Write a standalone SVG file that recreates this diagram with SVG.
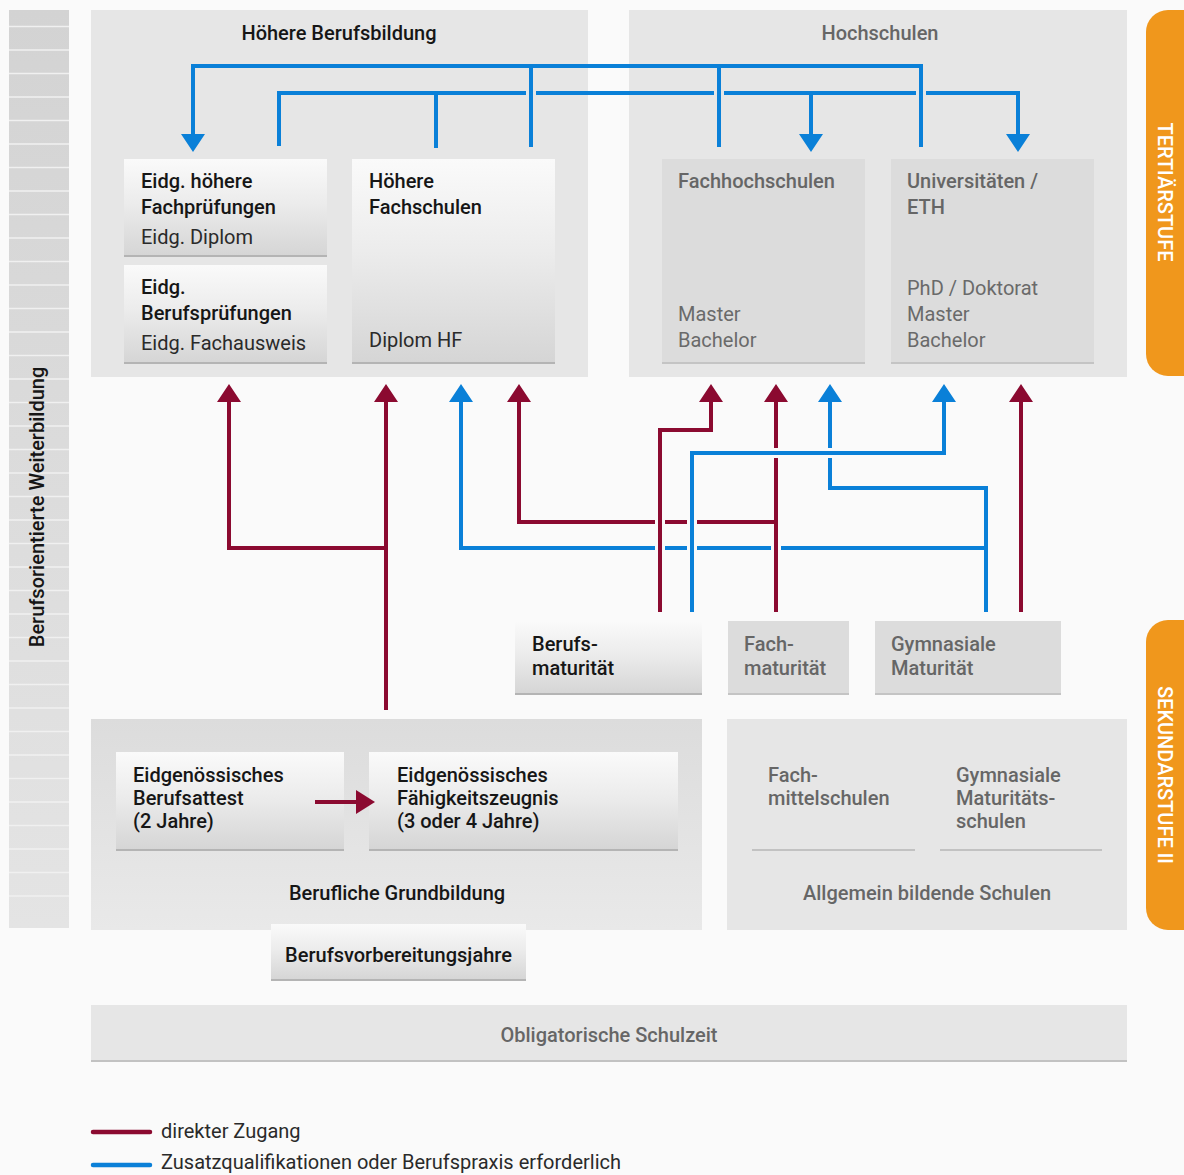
<svg xmlns="http://www.w3.org/2000/svg" width="1184" height="1175" viewBox="0 0 1184 1175">
<defs>
<linearGradient id="gWhite" x1="0" y1="0" x2="0" y2="1">
<stop offset="0" stop-color="#fafafa"/><stop offset="0.45" stop-color="#ececec"/><stop offset="1" stop-color="#d5d5d5"/>
</linearGradient>
<linearGradient id="gStrip" x1="0" y1="0" x2="0" y2="1">
<stop offset="0" stop-color="#d3d3d3"/><stop offset="1" stop-color="#e4e4e4"/>
</linearGradient>
<linearGradient id="gPanel" x1="0" y1="0" x2="0" y2="1">
<stop offset="0" stop-color="#dcdcdc"/><stop offset="1" stop-color="#e9e9e9"/>
</linearGradient>
<style>
text{font-family:Roboto,"Liberation Sans",sans-serif;font-size:20px}
.dk{fill:#161616;font-weight:500}
.dn{fill:#2a2a2a}
.gr{fill:#666666;font-weight:500}
.gn{fill:#6a6a6a}
.wh{fill:#ffffff;font-weight:500}
.panel{fill:#e6e6e6}
.wbox{fill:url(#gWhite)}
.gbox{fill:#dcdcdc}
.sh{stroke:#b4b4b4;stroke-width:2}
.red{stroke:#8b0a30;stroke-width:4;fill:none}
.blue{stroke:#0a80d8;stroke-width:4;fill:none}
.rh{fill:#8b0a30}
.bh{fill:#0a80d8}
.sep{stroke:#f0f0f0;stroke-width:1.5}
</style>
</defs>
<rect width="1184" height="1175" fill="#fafafa"/>

<g id="strip">
<rect x="9" y="10" width="60" height="918" fill="url(#gStrip)"/>
<g class="sep">
<line x1="9" y1="26.5" x2="69" y2="26.5"/><line x1="9" y1="50" x2="69" y2="50"/><line x1="9" y1="73.5" x2="69" y2="73.5"/><line x1="9" y1="97" x2="69" y2="97"/><line x1="9" y1="120.5" x2="69" y2="120.5"/><line x1="9" y1="144" x2="69" y2="144"/><line x1="9" y1="167.5" x2="69" y2="167.5"/><line x1="9" y1="191" x2="69" y2="191"/><line x1="9" y1="214.5" x2="69" y2="214.5"/><line x1="9" y1="238" x2="69" y2="238"/><line x1="9" y1="261.5" x2="69" y2="261.5"/><line x1="9" y1="285" x2="69" y2="285"/><line x1="9" y1="308.5" x2="69" y2="308.5"/><line x1="9" y1="332" x2="69" y2="332"/><line x1="9" y1="355.5" x2="69" y2="355.5"/><line x1="9" y1="379" x2="69" y2="379"/><line x1="9" y1="402.5" x2="69" y2="402.5"/><line x1="9" y1="426" x2="69" y2="426"/><line x1="9" y1="449.5" x2="69" y2="449.5"/><line x1="9" y1="473" x2="69" y2="473"/><line x1="9" y1="496.5" x2="69" y2="496.5"/><line x1="9" y1="520" x2="69" y2="520"/><line x1="9" y1="543.5" x2="69" y2="543.5"/><line x1="9" y1="567" x2="69" y2="567"/><line x1="9" y1="590.5" x2="69" y2="590.5"/><line x1="9" y1="614" x2="69" y2="614"/><line x1="9" y1="637.5" x2="69" y2="637.5"/><line x1="9" y1="661" x2="69" y2="661"/><line x1="9" y1="684.5" x2="69" y2="684.5"/><line x1="9" y1="708" x2="69" y2="708"/><line x1="9" y1="731.5" x2="69" y2="731.5"/><line x1="9" y1="755" x2="69" y2="755"/><line x1="9" y1="778.5" x2="69" y2="778.5"/><line x1="9" y1="802" x2="69" y2="802"/><line x1="9" y1="825.5" x2="69" y2="825.5"/><line x1="9" y1="849" x2="69" y2="849"/><line x1="9" y1="872.5" x2="69" y2="872.5"/><line x1="9" y1="896" x2="69" y2="896"/>
</g>
<text class="dk" transform="translate(44,507) rotate(-90)" text-anchor="middle">Berufsorientierte Weiterbildung</text>
</g>

<g id="tab-tertiaer">
<rect x="1146" y="10" width="60" height="366" rx="22" fill="#f0971c"/>
<text class="wh" font-weight="400" transform="translate(1158,192) rotate(90)" text-anchor="middle">TERTIÄRSTUFE</text>
</g>
<g id="tab-sek">
<rect x="1146" y="620" width="60" height="310" rx="22" fill="#f0971c"/>
<text class="wh" transform="translate(1158,775) rotate(90)" text-anchor="middle">SEKUNDARSTUFE II</text>
</g>

<g id="panel-hbb">
<rect class="panel" x="91" y="10" width="497" height="367"/>
<text class="dk" x="339" y="40" text-anchor="middle">Höhere Berufsbildung</text>
</g>
<g id="panel-hochschulen">
<rect class="panel" x="629" y="10" width="498" height="367"/>
<text class="gr" x="880" y="40" text-anchor="middle">Hochschulen</text>
</g>

<g id="node-hfp">
<rect class="wbox" x="124" y="159" width="203" height="97"/>
<line class="sh" x1="124" y1="256" x2="327" y2="256"/>
<text class="dk" x="141" y="188">Eidg. höhere</text>
<text class="dk" x="141" y="214">Fachprüfungen</text>
<text class="dn" x="141" y="244">Eidg. Diplom</text>
</g>
<g id="node-bp">
<rect class="wbox" x="124" y="265" width="203" height="98"/>
<line class="sh" x1="124" y1="363" x2="327" y2="363"/>
<text class="dk" x="141" y="294">Eidg.</text>
<text class="dk" x="141" y="320">Berufsprüfungen</text>
<text class="dn" x="141" y="350">Eidg. Fachausweis</text>
</g>
<g id="node-hf">
<rect class="wbox" x="352" y="159" width="203" height="204"/>
<line class="sh" x1="352" y1="363" x2="555" y2="363"/>
<text class="dk" x="369" y="188">Höhere</text>
<text class="dk" x="369" y="214">Fachschulen</text>
<text class="dn" x="369" y="347">Diplom HF</text>
</g>
<g id="node-fh">
<rect class="gbox" x="662" y="159" width="203" height="204"/>
<line x1="662" y1="363" x2="865" y2="363" stroke="#c4c4c4" stroke-width="2"/>
<text class="gr" x="678" y="188">Fachhochschulen</text>
<text class="gn" x="678" y="321">Master</text>
<text class="gn" x="678" y="347">Bachelor</text>
</g>
<g id="node-uni">
<rect class="gbox" x="891" y="159" width="203" height="204"/>
<line x1="891" y1="363" x2="1094" y2="363" stroke="#c4c4c4" stroke-width="2"/>
<text class="gr" x="907" y="188">Universitäten /</text>
<text class="gr" x="907" y="214">ETH</text>
<text class="gn" x="907" y="295">PhD / Doktorat</text>
<text class="gn" x="907" y="321">Master</text>
<text class="gn" x="907" y="347">Bachelor</text>
</g>

<g id="node-bm">
<rect class="wbox" x="515" y="621" width="187" height="73"/>
<line class="sh" x1="515" y1="694" x2="702" y2="694"/>
<text class="dk" x="532" y="651">Berufs-</text>
<text class="dk" x="532" y="675">maturität</text>
</g>
<g id="node-fm">
<rect class="gbox" x="728" y="621" width="121" height="73"/>
<line x1="728" y1="694" x2="849" y2="694" stroke="#c4c4c4" stroke-width="2"/>
<text class="gr" x="744" y="651">Fach-</text>
<text class="gr" x="744" y="675">maturität</text>
</g>
<g id="node-gm">
<rect class="gbox" x="875" y="621" width="186" height="73"/>
<line x1="875" y1="694" x2="1061" y2="694" stroke="#c4c4c4" stroke-width="2"/>
<text class="gr" x="891" y="651">Gymnasiale</text>
<text class="gr" x="891" y="675">Maturität</text>
</g>

<g id="panel-grundbildung">
<rect x="91" y="719" width="611" height="211" fill="url(#gPanel)"/>
<text class="dk" x="397" y="900" text-anchor="middle">Berufliche Grundbildung</text>
</g>
<g id="node-eba">
<rect class="wbox" x="116" y="752" width="228" height="98"/>
<line class="sh" x1="116" y1="850" x2="344" y2="850"/>
<text class="dk" x="133" y="782">Eidgenössisches</text>
<text class="dk" x="133" y="805">Berufsattest</text>
<text class="dk" x="133" y="828">(2 Jahre)</text>
</g>
<g id="node-efz">
<rect class="wbox" x="369" y="752" width="309" height="98"/>
<line class="sh" x1="369" y1="850" x2="678" y2="850"/>
<text class="dk" x="397" y="782">Eidgenössisches</text>
<text class="dk" x="397" y="805">Fähigkeitszeugnis</text>
<text class="dk" x="397" y="828">(3 oder 4 Jahre)</text>
</g>
<g id="node-bvj">
<rect class="wbox" x="271" y="924" width="255" height="56"/>
<line class="sh" x1="271" y1="980" x2="526" y2="980"/>
<text class="dk" x="398.5" y="962" text-anchor="middle">Berufsvorbereitungsjahre</text>
</g>

<g id="panel-allgemein">
<rect class="panel" x="727" y="719" width="400" height="211"/>
<text class="gr" x="768" y="782">Fach-</text>
<text class="gr" x="768" y="805">mittelschulen</text>
<text class="gr" x="956" y="782">Gymnasiale</text>
<text class="gr" x="956" y="805">Maturitäts-</text>
<text class="gr" x="956" y="828">schulen</text>
<line x1="752" y1="850" x2="915" y2="850" stroke="#c2c2c2" stroke-width="2"/>
<line x1="940" y1="850" x2="1102" y2="850" stroke="#c2c2c2" stroke-width="2"/>
<text class="gr" x="927" y="900" text-anchor="middle">Allgemein bildende Schulen</text>
</g>

<g id="node-obl">
<rect class="panel" x="91" y="1005" width="1036" height="56"/>
<line x1="91" y1="1061" x2="1127" y2="1061" stroke="#c2c2c2" stroke-width="2"/>
<text class="gr" x="609" y="1042" text-anchor="middle">Obligatorische Schulzeit</text>
</g>

<g id="connectors">
<path class="blue" d="M193 136 V66 H921 V147 M531 66 V147 M719 66 V147"/>
<path class="blue" d="M279 146 V93 H526 M536 93 H714 M724 93 H916 M926 93 H1018 V136 M436 93 V148 M811 93 V136"/>
<path class="bh" d="M181 134 L205 134 L193 152 Z M799 134 L823 134 L811 152 Z M1006 134 L1030 134 L1018 152 Z"/>
<path class="red" d="M386 710 V400 M229 400 V548 H386"/>
<path class="red" d="M660 612 V430 H711 V400"/>
<path class="red" d="M776 612 V458 M776 448 V400 M776 522 H697 M687 522 H665 M655 522 H519 V400"/>
<path class="red" d="M1021 612 V400"/>
<path class="rh" d="M217 402 L241 402 L229 384 Z M374 402 L398 402 L386 384 Z M507 402 L531 402 L519 384 Z M699 402 L723 402 L711 384 Z M764 402 L788 402 L776 384 Z M1009 402 L1033 402 L1021 384 Z"/>
<path class="blue" d="M692 612 V453 H944 V400"/>
<path class="blue" d="M986 612 V488 H830 V458 M830 448 V400 M986 548 H781 M771 548 H697 M687 548 H665 M655 548 H461 V400"/>
<path class="bh" d="M449 402 L473 402 L461 384 Z M818 402 L842 402 L830 384 Z M932 402 L956 402 L944 384 Z"/>
<path class="red" d="M315 802 H358"/>
<path class="rh" d="M356 790 L375 802 L356 814 Z"/>
</g>

<g id="legend">
<line x1="93" y1="1132" x2="150" y2="1132" stroke="#8b0a30" stroke-width="4.5" stroke-linecap="round"/>
<text class="dn" x="161" y="1138">direkter Zugang</text>
<line x1="93" y1="1165" x2="150" y2="1165" stroke="#0a80d8" stroke-width="4.5" stroke-linecap="round"/>
<text class="dn" x="161" y="1169">Zusatzqualifikationen oder Berufspraxis erforderlich</text>
</g>
</svg>
